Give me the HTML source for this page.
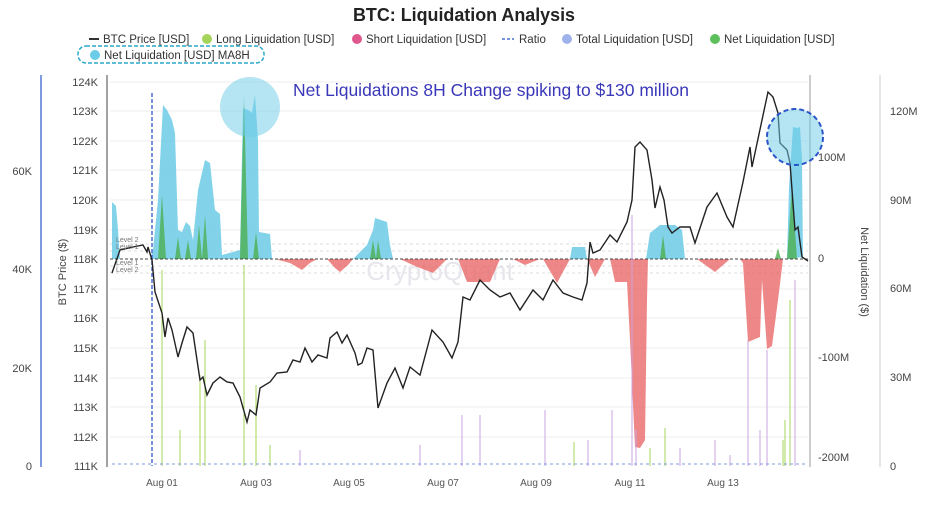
<!DOCTYPE html>
<html><head><meta charset="utf-8"><style>
body{margin:0;background:#fff;width:928px;height:514px;overflow:hidden;font-family:"Liberation Sans",sans-serif}
svg text{font-family:"Liberation Sans",sans-serif}
</style></head><body>
<svg width="928" height="514" viewBox="0 0 928 514" xmlns="http://www.w3.org/2000/svg">
<text x="464" y="21" text-anchor="middle" font-size="18" font-weight="bold" fill="#222" textLength="222" lengthAdjust="spacingAndGlyphs">BTC: Liquidation Analysis</text>
<g font-size="11.5" fill="#333">
<line x1="89" y1="39" x2="99" y2="39" stroke="#333" stroke-width="2"/><text x="103" y="43">BTC Price [USD]</text>
<circle cx="207" cy="39" r="5" fill="#a6d45a"/><text x="216" y="43">Long Liquidation [USD]</text>
<circle cx="357" cy="39" r="5" fill="#e0578e"/><text x="366" y="43">Short Liquidation [USD]</text>
<line x1="502" y1="39" x2="514" y2="39" stroke="#4d6fd6" stroke-width="1.5" stroke-dasharray="3,2"/><text x="519" y="43">Ratio</text>
<circle cx="567" cy="39" r="5" fill="#9fb3ea"/><text x="576" y="43">Total Liquidation [USD]</text>
<circle cx="715" cy="39" r="5" fill="#5cbf5c"/><text x="724" y="43">Net Liquidation [USD]</text>
<rect x="78" y="46" width="186" height="17" rx="8" fill="none" stroke="#2aa8c8" stroke-width="1.5" stroke-dasharray="4,2"/>
<circle cx="95" cy="55" r="5" fill="#6ccbe6"/><text x="104" y="59">Net Liquidation [USD] MA8H</text>
</g>
<line x1="41" y1="75" x2="41" y2="467" stroke="#7f9be0" stroke-width="2"/>
<line x1="107" y1="75" x2="107" y2="467" stroke="#444" stroke-width="1"/>
<line x1="810" y1="75" x2="810" y2="467" stroke="#999" stroke-width="1"/>
<line x1="880" y1="75" x2="880" y2="467" stroke="#ccc" stroke-width="1"/>
<g stroke="#eee" stroke-width="1">
<line x1="110" y1="82" x2="808" y2="82"/><line x1="110" y1="111" x2="808" y2="111"/><line x1="110" y1="141" x2="808" y2="141"/><line x1="110" y1="170" x2="808" y2="170"/><line x1="110" y1="200" x2="808" y2="200"/><line x1="110" y1="230" x2="808" y2="230"/><line x1="110" y1="289" x2="808" y2="289"/><line x1="110" y1="318" x2="808" y2="318"/><line x1="110" y1="348" x2="808" y2="348"/><line x1="110" y1="378" x2="808" y2="378"/><line x1="110" y1="407" x2="808" y2="407"/><line x1="110" y1="437" x2="808" y2="437"/>
</g>
<g stroke="#ddd" stroke-dasharray="3,3"><line x1="110" y1="244" x2="808" y2="244"/><line x1="110" y1="251" x2="808" y2="251"/><line x1="110" y1="266" x2="808" y2="266"/><line x1="110" y1="273" x2="808" y2="273"/></g>
<g font-size="11" fill="#444" text-anchor="end">
<text x="98" y="86">124K</text><text x="98" y="115">123K</text><text x="98" y="145">122K</text><text x="98" y="174">121K</text><text x="98" y="204">120K</text><text x="98" y="234">119K</text><text x="98" y="263">118K</text><text x="98" y="293">117K</text><text x="98" y="322">116K</text><text x="98" y="352">115K</text><text x="98" y="382">114K</text><text x="98" y="411">113K</text><text x="98" y="441">112K</text><text x="98" y="470">111K</text>
<text x="32" y="175">60K</text><text x="32" y="273">40K</text><text x="32" y="372">20K</text><text x="32" y="470">0</text>
</g>
<text transform="translate(66,272) rotate(-90)" font-size="11" fill="#444" text-anchor="middle">BTC Price ($)</text>
<g font-size="11" fill="#444">
<text x="818" y="161">100M</text><text x="818" y="262">0</text><text x="818" y="361">-100M</text><text x="818" y="461">-200M</text>
<text x="890" y="115">120M</text><text x="890" y="204">90M</text><text x="890" y="292">60M</text><text x="890" y="381">30M</text><text x="890" y="470">0</text>
</g>
<text transform="translate(861,272) rotate(90)" font-size="11" fill="#444" text-anchor="middle">Net Liquidation ($)</text>
<g font-size="10" fill="#555" text-anchor="middle">
<text x="162" y="486">Aug 01</text><text x="256" y="486">Aug 03</text><text x="349" y="486">Aug 05</text><text x="443" y="486">Aug 07</text><text x="536" y="486">Aug 09</text><text x="630" y="486">Aug 11</text><text x="723" y="486">Aug 13</text>
</g>
<text x="440" y="280" font-size="26" fill="#e6e6ec" text-anchor="middle">CryptoQuant</text>
<!-- cyan MA -->
<path fill="#6ccbe6" fill-opacity="0.85" d="M112,259 L112,202 L116,206 L118,230 L120,259 L150,259 L153,250 L158,200 L163,105 L167,110 L172,120 L175,133 L178,230 L182,232 L186,222 L190,226 L193,240 L198,190 L205,160 L210,163 L215,210 L220,214 L222,255 L240,250 L243,108 L248,110 L252,113 L255,95 L258,140 L259,232 L270,234 L272,259 Z
M353,259 L367,245 L373,230 L375,218 L387,222 L390,245 L393,259 Z
M570,259 L572,247 L585,247 L587,259 Z
M646,259 L650,233 L660,225 L675,225 L682,230 L685,259 Z
M787,259 L789,187 L793,127 L797,128 L800,127 L802,160 L803,257 Z"/>
<!-- green spikes -->
<path fill="#4caf50" fill-opacity="0.8" d="M158,259 L162,195 L166,259 Z M175,259 L178,237 L181,259 Z M185,259 L188,240 L191,259 Z M196,259 L199,225 L202,259 Z M202,259 L205,215 L208,259 Z M240,259 L244,95 L248,259 Z M253,259 L256,232 L259,259 Z M370,259 L373,240 L376,259 Z M376,259 L378,240 L381,259 Z M660,259 L663,235 L666,259 Z M787,259 L792,187 L797,259 Z M775,259 L778,248 L781,259 Z"/>
<!-- red -->
<path fill="#e86060" fill-opacity="0.75" d="M275,259 L290,263 L302,270 L310,263 L317,259 Z M327,259 L335,268 L340,272 L348,265 L353,259 Z M400,259 L415,266 L433,273 L447,259 Z M458,259 L467,282 L490,282 L500,259 Z M513,259 L525,265 L540,259 Z M543,259 L557,283 L570,259 Z M587,259 L595,277 L605,259 Z M610,259 L615,282 L627,282 L630,340 L635,447 L640,448 L645,440 L647,300 L648,259 Z M697,259 L715,272 L730,259 Z M740,259 L743,263 L748,342 L760,337 L762,280 L767,349 L772,346 L778,300 L783,259 Z"/>
<line x1="110" y1="259" x2="808" y2="259" stroke="#444" stroke-dasharray="3,2"/>
<g stroke-width="1">
<g stroke="#c9a5e0"><line x1="462" y1="466" x2="462" y2="415"/><line x1="480" y1="466" x2="480" y2="415"/><line x1="545" y1="466" x2="545" y2="410"/><line x1="588" y1="466" x2="588" y2="440"/><line x1="612" y1="466" x2="612" y2="410"/><line x1="632" y1="466" x2="632" y2="215"/><line x1="636" y1="466" x2="636" y2="430"/><line x1="715" y1="466" x2="715" y2="440"/><line x1="748" y1="466" x2="748" y2="340"/><line x1="760" y1="466" x2="760" y2="430"/><line x1="767" y1="466" x2="767" y2="350"/><line x1="795" y1="466" x2="795" y2="280"/><line x1="300" y1="466" x2="300" y2="450"/><line x1="420" y1="466" x2="420" y2="445"/><line x1="680" y1="466" x2="680" y2="448"/><line x1="730" y1="466" x2="730" y2="455"/></g>
<g stroke="#a6d45a"><line x1="162" y1="466" x2="162" y2="270"/><line x1="205" y1="466" x2="205" y2="340"/><line x1="244" y1="466" x2="244" y2="265"/><line x1="180" y1="466" x2="180" y2="430"/><line x1="200" y1="466" x2="200" y2="375"/><line x1="256" y1="466" x2="256" y2="385"/><line x1="270" y1="466" x2="270" y2="445"/><line x1="790" y1="466" x2="790" y2="300"/><line x1="785" y1="466" x2="785" y2="420"/><line x1="650" y1="466" x2="650" y2="448"/><line x1="665" y1="466" x2="665" y2="428"/><line x1="783" y1="466" x2="783" y2="440"/><line x1="574" y1="466" x2="574" y2="442"/></g>
</g>
<line x1="112" y1="464" x2="805" y2="464" stroke="#7f9be0" stroke-dasharray="3,3"/>
<line x1="152" y1="93" x2="152" y2="466" stroke="#4d6fd6" stroke-width="1.5" stroke-dasharray="4,2"/>
<polyline fill="none" stroke="#222" stroke-width="1.4" points="112,273 120,250 133,247 143,245 147,252 148,247 152,260 155,292 162,313 165,337 168,318 172,330 178,357 182,343 187,327 193,333 200,380 203,377 207,395 213,383 220,377 227,382 233,383 240,397 247,422 250,410 256,415 260,388 270,382 277,373 287,372 293,360 300,362 305,348 312,362 318,355 327,358 330,338 337,332 342,343 347,335 355,353 358,365 362,363 367,348 373,350 378,408 387,383 395,368 403,388 410,367 420,375 432,330 443,342 452,358 458,342 463,297 470,300 480,280 490,290 500,297 510,293 520,310 533,290 543,300 553,280 563,293 573,297 582,300 587,283 590,242 593,253 600,250 610,235 617,242 627,222 632,200 635,147 640,142 647,150 652,180 655,208 660,187 664,200 668,227 672,233 680,227 690,227 695,243 707,207 717,193 727,217 733,227 743,182 750,147 752,167 762,120 768,92 773,97 778,113 780,143 787,150 790,163 795,230 798,227 802,257 808,261"/>
<circle cx="250" cy="107" r="30" fill="#6ccbe6" fill-opacity="0.5"/>
<circle cx="795" cy="137" r="28" fill="#6ccbe6" fill-opacity="0.5" stroke="#2a55c8" stroke-width="2" stroke-dasharray="5,3"/>
<text x="293" y="96" font-size="17.5" fill="#3a38b8">Net Liquidations 8H Change spiking to $130 million</text>
<g font-size="7" fill="#777"><text x="116" y="242">Level 2</text><text x="116" y="249">Level 1</text><text x="116" y="265">Level 1</text><text x="116" y="272">Level 2</text></g>
</svg>
</body></html>
